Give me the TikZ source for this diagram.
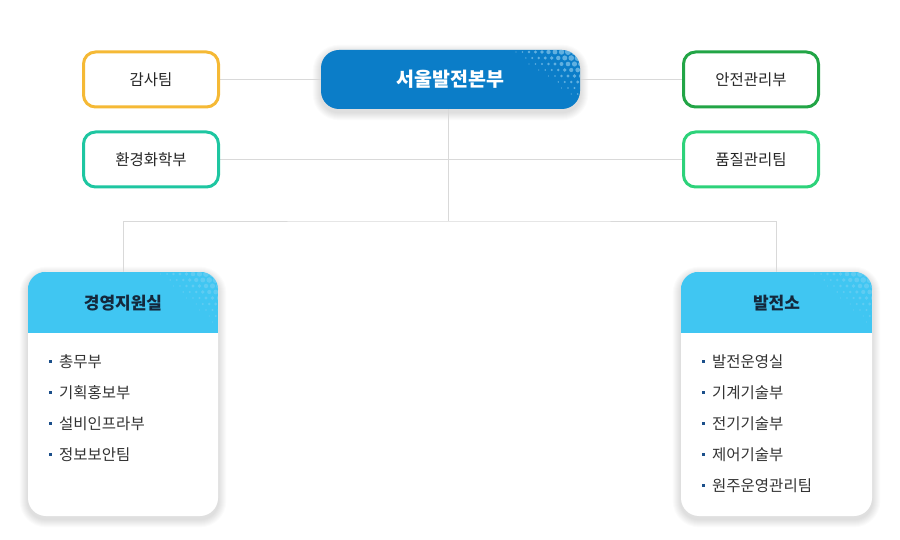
\documentclass[tikz,border=0pt]{standalone}
\usepackage{tikz}
\usepackage{fontspec}
\setmainfont{Noto Sans CJK KR}
\usetikzlibrary{calc}
\pgfdeclarelayer{bg}
\pgfsetlayers{bg,main}
\definecolor{mainblue}{HTML}{0B7DC8}
\definecolor{headblue}{HTML}{40C6F2}
\definecolor{cYel}{HTML}{F5B935}
\definecolor{cTeal}{HTML}{1EC6A1}
\definecolor{cGreen}{HTML}{22A546}
\definecolor{cLgreen}{HTML}{2DD27A}
\definecolor{navytxt}{HTML}{14283C}
\definecolor{bulletc}{HTML}{1B4F8A}
\definecolor{linec}{HTML}{D9D9D9}
\definecolor{dotc}{HTML}{A8DAF5}
\newcommand\bul{\textcolor{bulletc}{\rule[0.32em]{3pt}{3pt}}\hspace{7pt}}
\newcommand\halftone[6]{% corner x, corner y, extent, k, opacity, max radius
  \foreach \i in {0,...,14}{\foreach \j in {0,...,11}{%
    \pgfmathsetmacro\rr{#6*(1-(6.5*\i+3.25*mod(\j,2)+#4*6*\j)/#3)}%
    \ifdim\rr pt>0.5pt
      \fill[dotc,opacity=#5] ({#1+1-6.5*\i-3.25*mod(\j,2)},{#2+2+6*\j}) circle[radius=\rr pt];
    \fi}}}
\newcommand\softshadow[2]{%
  \foreach \k in {1,...,8}{\fill[black,opacity=0.016,rounded corners={#2pt+\k pt}]
    ($(#1.north west)+(-\k,-\k+3)$) rectangle ($(#1.south east)+(\k,\k+3)$);}}
\tikzset{
  smallbox/.style={draw, line width=3pt, rounded corners=12pt, minimum width=135pt,
    minimum height=55pt, fill=white, font=\fontsize{15.5}{17}\selectfont, text=black!85},
  mainbox/.style={fill=mainblue, rounded corners=18pt, minimum width=259pt, minimum height=59pt,
    font=\fontsize{19.5}{22}\selectfont\bfseries, text=white},
  conn/.style={draw=linec, line width=0.9pt},
  card/.style={rounded corners=18pt, minimum width=190pt, minimum height=244pt, fill=white},
  headtxt/.style={font=\fontsize{17}{19}\selectfont\bfseries, text=navytxt},
  item/.style={anchor=west, font=\fontsize{15.5}{17}\selectfont, text=black!80, inner sep=0pt},
}
\begin{document}
\begin{tikzpicture}[x=1pt,y=-1pt]
\useasboundingbox (0,0) rectangle (900,540);
% top nodes
\node[smallbox, draw=cYel] (audit) at (151,79.5) {감사팀};
\node[smallbox, draw=cTeal] (env) at (151,159.5) {환경화학부};
\node[smallbox, draw=cGreen] (safety) at (751,79.5) {안전관리부};
\node[smallbox, draw=cLgreen] (quality) at (751,159.5) {품질관리팀};
\node[mainbox] (main) at (450.5,79.5) {};
\begin{scope}
  \clip[rounded corners=18pt] (main.north west) rectangle (main.south east);
  \halftone{580}{50}{80}{1.35}{0.55}{3.6}
\end{scope}
\node[font=\fontsize{19.5}{22}\selectfont\bfseries, text=white] (mainT) at (main.center) {서울발전본부};
% cards
\node[card] (admin) at (123,394) {};
\node[card, minimum width=191pt] (plant) at (776.5,394) {};
\begin{scope}
  \clip[rounded corners=18pt] (admin.north west) rectangle (admin.south east);
  \fill[headblue] (admin.north west) rectangle ($(admin.north east)+(0,61)$);
  \halftone{218}{272}{72}{1.15}{0.3}{3.6}
\end{scope}
\begin{scope}
  \clip[rounded corners=18pt] (plant.north west) rectangle (plant.south east);
  \fill[headblue] (plant.north west) rectangle ($(plant.north east)+(0,61)$);
  \halftone{872}{272}{72}{1.15}{0.3}{3.6}
\end{scope}
\node[headtxt] (adminH) at ($(admin.north)+(0,31)$) {경영지원실};
\node[headtxt] (plantH) at ($(plant.north)+(0,31)$) {발전소};
% items
\node[item] (a1) at (49,362) {\bul 총무부};
\node[item] (a2) at (49,393) {\bul 기획홍보부};
\node[item] (a3) at (49,424) {\bul 설비인프라부};
\node[item] (a4) at (49,455) {\bul 정보보안팀};
\node[item] (p1) at (702,362) {\bul 발전운영실};
\node[item] (p2) at (702,393) {\bul 기계기술부};
\node[item] (p3) at (702,424) {\bul 전기기술부};
\node[item] (p4) at (702,455) {\bul 제어기술부};
\node[item] (p5) at (702,486) {\bul 원주운영관리팀};
\coordinate (j) at (448,221);
\begin{pgfonlayer}{bg}
  \softshadow{main}{18}
  \softshadow{admin}{18}
  \softshadow{plant}{18}
  \draw[conn] (audit.east) -- (main.west);
  \draw[conn] (main.east) -- (safety.west);
  \draw[conn] (env.east) -- (quality.west);
  \draw[conn] (main.south -| j) -- (j);
  \draw[conn] (admin.north) |- (j) -| (plant.north);
\end{pgfonlayer}
\end{tikzpicture}
\end{document}
